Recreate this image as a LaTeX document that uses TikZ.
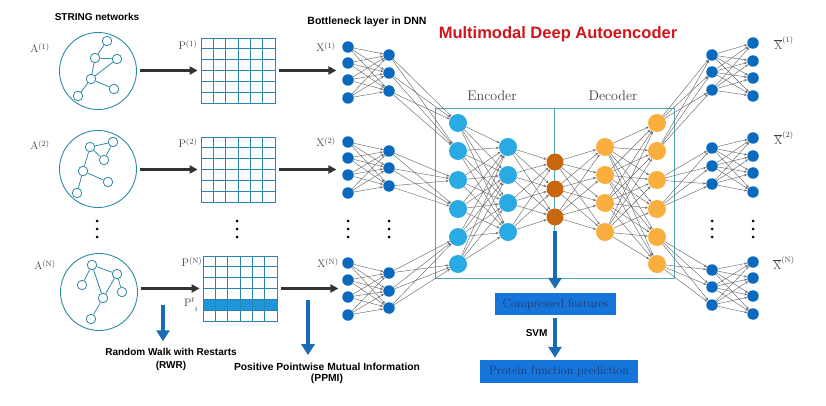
\documentclass[tikz,border=0pt]{standalone}
\usepackage{fontspec}
\setsansfont{Liberation Sans}
\usepackage{amsmath}
\usetikzlibrary{arrows.meta,positioning,calc}
\definecolor{netteal}{HTML}{2E8AA3}
\definecolor{gridteal}{HTML}{2A86AE}
\definecolor{rowblue}{HTML}{1F95D9}
\definecolor{unitblue}{HTML}{0A6BBE}
\definecolor{encblue}{HTML}{2AAAE2}
\definecolor{codeorange}{HTML}{C8660E}
\definecolor{decyellow}{HTML}{F9AE3E}
\definecolor{linkgray}{HTML}{6A6A6A}
\definecolor{flowgray}{HTML}{333333}
\definecolor{downblue}{HTML}{1A6DB5}
\definecolor{boxblue}{HTML}{1675DA}
\definecolor{boxtext}{HTML}{1B3A72}
\definecolor{titlered}{HTML}{D0141C}
\definecolor{frameteal}{HTML}{4FA4B8}

\begin{document}
\begin{tikzpicture}[x=1pt,y=-1pt,
  net/.style={circle,draw=netteal,line width=0.9pt,minimum size=77pt,inner sep=0pt},
  vtx/.style={circle,draw=netteal,fill=white,line width=0.8pt,minimum size=9.5pt,inner sep=0pt},
  tree/.style={draw=netteal,line width=0.8pt},
  grid box/.style={rectangle,draw=gridteal,line width=0.8pt,minimum width=74pt,minimum height=65pt,inner sep=0pt},
  gridline/.style={draw=gridteal,line width=0.8pt},
  unit/.style={circle,fill=unitblue,minimum size=11.5pt,inner sep=0pt},
  enc/.style={circle,fill=encblue,minimum size=18pt,inner sep=0pt},
  code/.style={circle,fill=codeorange,minimum size=17pt,inner sep=0pt},
  dec/.style={circle,fill=decyellow,minimum size=18pt,inner sep=0pt},
  link/.style={-{Stealth[length=3pt,width=2.4pt]},draw=linkgray,line width=0.45pt},
  flow/.style={-{Triangle[length=8pt,width=8pt]},draw=flowgray,line width=2.2pt},
  down/.style={-{Triangle[length=11pt,width=13pt]},draw=downblue,line width=4.5pt},
  lab/.style={font=\fontsize{11}{12}\selectfont,text=black!75},
  note/.style={font=\sffamily\bfseries\fontsize{10}{12}\selectfont,align=center},
  part/.style={font=\fontsize{14}{15}\selectfont,text=black!75},
  outbox/.style={rectangle,fill=boxblue,text=boxtext,font=\fontsize{12}{13}\selectfont,inner sep=0pt}]
\useasboundingbox (0,0) rectangle (826,406);

\node[note] (string) at (97,17) {STRING networks};
\node[note,font=\sffamily\bfseries\fontsize{10.5}{12}\selectfont] (bneck) at (367,22) {Bottleneck layer in DNN};
\node[font=\sffamily\bfseries\fontsize{16.5}{18}\selectfont,text=titlered] (title) at (558,34) {Multimodal Deep Autoencoder};

\node[net] (net1) at (98,71) {};
\node[net] (net2) at (98,169) {};
\node[net] (net3) at (99,292) {};
\foreach \n/\x/\y in {1a/107/41,1b/95/58,1c/117/59,1d/91/79,1e/114/89,1f/78/96,
    2a/90/147,2b/113/142,2c/104/160,2d/83/171,2e/108/182,2f/77/193,
    3a/92/265,3b/117/274,3c/82/285,3d/122/292,3e/103/298,3f/91/319}
  \node[vtx] (v\n) at (\x,\y) {};
\foreach \a/\b in {1a/1b,1b/1c,1b/1d,1c/1d,1d/1e,1d/1f,
    2a/2b,2a/2c,2b/2c,2a/2d,2d/2e,2d/2f,
    3a/3c,3a/3e,3a/3b,3b/3e,3b/3d,3e/3f}
  \draw[tree] (v\a) -- (v\b);
\node[lab] (a1) at (40,48) {$\mathrm{A}^{(1)}$};
\node[lab] (a2) at (40,145) {$\mathrm{A}^{(2)}$};
\node[lab] (a3) at (45,265) {$\mathrm{A}^{(\mathrm{N})}$};

\fill[rowblue] (203,300) rectangle (277,311);
\foreach \m/\gx/\gy in {1/201/38,2/201/137,3/203/256}{
  \node[grid box] (p\m) at (\gx+37,\gy+32.5) {};
  \foreach \k in {1,...,5}{
    \draw[gridline] (\gx+\k*12.333,\gy) -- (\gx+\k*12.333,\gy+65);
    \draw[gridline] (\gx,\gy+\k*10.833) -- (\gx+74,\gy+\k*10.833);
  }
}
\node[lab] (pl1) at (188,45) {$\mathrm{P}^{(1)}$};
\node[lab] (pl2) at (188,143) {$\mathrm{P}^{(2)}$};
\node[lab] (pl3) at (192,262) {$\mathrm{P}^{(\mathrm{N})}$};
\node[lab,anchor=east,inner sep=1pt] (pt) at (199,305) {$\mathrm{P}^{t}$\raisebox{-5pt}{$\scriptstyle i$}};

\foreach \m in {1,2,3}{
  \draw[flow] (net\m.east |- p\m.west) ++(3,0) -- ($(p\m.west)+(-3,0)$);
  \coordinate (xin\m) at ($(p\m.east)+(61,0)$);
  \draw[flow,shorten <=4pt] (p\m.east) -- (xin\m);
}

\foreach \x in {97,237,348,389,712,753}
  \foreach \y in {221,229,237}
    \fill (\x,\y) circle (1.5pt);

\node[draw=frameteal,line width=0.8pt,minimum width=239pt,minimum height=170pt,inner sep=0pt] (ae) at (554.5,193) {};
\draw[frameteal,line width=0.8pt] (ae.north) -- (ae.south);
\node[part] (enclab) at (492,96) {Encoder};
\node[part] (declab) at (613,96) {Decoder};

% input layers
\foreach \m/\ya/\yb in {1/{47,63,80,98}/{55,73,91},2/{142,158,175,193}/{151,168,186},3/{263,280,297,315}/{273,291,308}}{
  \foreach \y [count=\k] in \ya \node[unit] (xa\m\k) at (348,\y) {};
  \foreach \y [count=\k] in \yb \node[unit] (xb\m\k) at (389,\y) {};
}
\node[lab] (x1) at (326,47) {$\mathrm{X}^{(1)}$};
\node[lab] (x2) at (326,142) {$\mathrm{X}^{(2)}$};
\node[lab] (x3) at (328,263) {$\mathrm{X}^{(\mathrm{N})}$};

% autoencoder
\foreach \y [count=\k] in {123,151,180,209,237,264} \node[enc] (en\k) at (458,\y) {};
\foreach \y [count=\k] in {147,175,203,232} \node[enc] (eh\k) at (508,\y) {};
\foreach \y [count=\k] in {162,189,217} \node[code] (z\k) at (555,\y) {};
\foreach \y [count=\k] in {147,175,203,232} \node[dec] (dh\k) at (605,\y) {};
\foreach \y [count=\k] in {123,151,180,209,237,264} \node[dec] (de\k) at (657,\y) {};

% output layers
\foreach \m/\ya/\yb in {1/{55,72,90}/{43,61,78,96},2/{148,166,184}/{138,156,173,192},3/{270,287,305}/{262,278,296,314}}{
  \foreach \y [count=\k] in \ya \node[unit] (ya\m\k) at (712,\y) {};
  \foreach \y [count=\k] in \yb \node[unit] (yb\m\k) at (753,\y) {};
}
\node[lab] (y1) at (784,43) {$\overline{\mathrm{X}}^{(1)}$};
\node[lab] (y2) at (784,138) {$\overline{\mathrm{X}}^{(2)}$};
\node[lab] (y3) at (784,263) {$\overline{\mathrm{X}}^{(\mathrm{N})}$};

% connections
\foreach \m/\s in {1/1,2/3,3/5}{
  \foreach \i in {1,...,4} \foreach \j in {1,2,3} \draw[link] (xa\m\i) -- (xb\m\j);
  \foreach \i in {1,2,3} \foreach \j in {0,1} {
    \pgfmathtruncatemacro\t{\s+\j}
    \draw[link] (xb\m\i) -- (en\t);
    \draw[link] (de\t) -- (ya\m\i);
  }
  \foreach \i in {1,2,3} \foreach \j in {1,...,4} \draw[link] (ya\m\i) -- (yb\m\j);
}
\foreach \i in {1,...,6} \foreach \j in {1,...,4} {
  \draw[link] (en\i) -- (eh\j);
  \draw[link] (dh\j) -- (de\i);
}
\foreach \i in {1,...,4} \foreach \j in {1,2,3} {
  \draw[link] (eh\i) -- (z\j);
  \draw[link] (z\j) -- (dh\i);
}

\node[outbox,minimum width=121pt,minimum height=22pt] (feat) at (555.5,304) {Compressed features};
\node[outbox,minimum width=158pt,minimum height=23pt] (pred) at (559,371.5) {Protein function prediction};
\draw[down,shorten >=4pt] ($(z3.south)+(0,5)$) -- (z3.south |- feat.north);
\draw[down,shorten <=3pt,shorten >=2pt] (feat.south -| z3.south) -- (pred.north -| z3.south) node[pos=0.4,left=2pt,note] (svm) {SVM};

\node[note] (rwr) at (171,359) {Random Walk with Restarts\\[1pt](RWR)};
\coordinate (rwrtop) at (163,305);
\draw[down,shorten >=3pt] (rwrtop) -- (rwrtop |- rwr.north);
\node[note,font=\sffamily\bfseries\fontsize{10.3}{11}\selectfont] (ppmi) at (327,373) {Positive Pointwise Mutual Information\\(PPMI)};
\coordinate (ppmitop) at (308,300);
\draw[down,shorten >=4pt] (ppmitop) -- (ppmitop |- ppmi.north);
\end{tikzpicture}
\end{document}
